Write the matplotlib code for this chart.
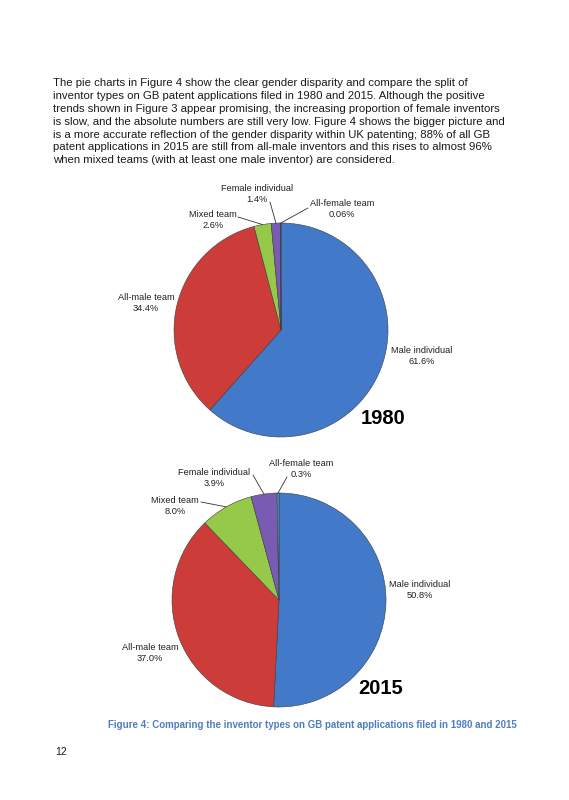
import numpy as np
import matplotlib
matplotlib.use('Agg')
import matplotlib.pyplot as plt

plt.rcParams['font.family'] = ['Liberation Sans', 'DejaVu Sans']

W, H = 569, 800

# data
categories = ['Male individual', 'All-male team', 'Mixed team',
              'Female individual', 'All-female team']
share_1980 = [61.6, 34.4, 2.6, 1.4, 0.06]
share_2015 = [50.8, 37.0, 8.0, 3.9, 0.3]
pct_1980 = ['61.6%', '34.4%', '2.6%', '1.4%', '0.06%']
pct_2015 = ['50.8%', '37.0%', '8.0%', '3.9%', '0.3%']

colors = ['#4379c9', '#cc3d3a', '#96c84a', '#7a5bb4', '#3fa3c8']

paragraph = [
    "The pie charts in Figure 4 show the clear gender disparity and compare the split of",
    "inventor types on GB patent applications filed in 1980 and 2015. Although the positive",
    "trends shown in Figure 3 appear promising, the increasing proportion of female inventors",
    "is slow, and the absolute numbers are still very low. Figure 4 shows the bigger picture and",
    "is a more accurate reflection of the gender disparity within UK patenting; 88% of all GB",
    "patent applications in 2015 are still from all-male inventors and this rises to almost 96%",
    "when mixed teams (with at least one male inventor) are considered.",
]
caption = "Figure 4: Comparing the inventor types on GB patent applications filed in 1980 and 2015"

# layout (pixels from top-left): label centre, leader start (None = no leader)
lay_1980 = {
    'Male individual': ((422, 356), None),
    'All-male team': ((146, 303), None),
    'Mixed team': ((213, 220), (238, 217)),
    'Female individual': ((257, 194), (270, 202)),
    'All-female team': ((342, 209), (308, 208)),
}
lay_2015 = {
    'Male individual': ((420, 590), None),
    'All-male team': ((150, 653), None),
    'Mixed team': ((175, 506), (201, 502)),
    'Female individual': ((214, 478), (253, 475)),
    'All-female team': ((301, 469), (287, 477)),
}

fig = plt.figure(figsize=(W / 100, H / 100), dpi=100)
fig.patch.set_facecolor('white')


def fpos(x, y):
    return x / W, 1 - y / H


for i, line in enumerate(paragraph):
    fig.text(*fpos(53, 83 + i * 12.9), line, fontsize=8.2, color='#1a1a1a',
             ha='left', va='center')


def draw_pie(cx, cy, R, values, pcts, layout, year):
    ax = fig.add_axes([(cx - 2 * R) / W, 1 - (cy + 1.5 * R) / H, 4 * R / W, 3 * R / H])
    wedges, _ = ax.pie(values, colors=colors, startangle=90, counterclock=False,
                       radius=1, wedgeprops=dict(edgecolor='#3c3c3c', linewidth=0.4))
    ax.set_xlim(-2, 2)
    ax.set_ylim(-1.5, 1.5)
    ax.set_aspect('equal')
    ax.axis('off')
    for w, cat, p in zip(wedges, categories, pcts):
        (tx, ty), lead = layout[cat]
        fig.text(*fpos(tx, ty), cat + '\n' + p, fontsize=6.7, color='#222222',
                 ha='center', va='center', linespacing=1.15)
        if lead is not None:
            mid = np.deg2rad((w.theta1 + w.theta2) / 2)
            ax.annotate('', xy=(np.cos(mid), np.sin(mid)), xycoords='data',
                        xytext=(lead[0], H - lead[1]), textcoords='figure pixels',
                        arrowprops=dict(arrowstyle='-', lw=0.6, color='#333333',
                                        shrinkA=0, shrinkB=0))
    fig.text(*fpos(cx + 102, cy + 88), year, fontsize=14.5, fontweight='bold',
             color='black', ha='center', va='center')


draw_pie(281, 330, 107, share_1980, pct_1980, lay_1980, '1980')
draw_pie(279, 600, 107, share_2015, pct_2015, lay_2015, '2015')

fig.text(*fpos(312, 725), caption, fontsize=7.0, fontweight='bold',
         color='#4f7fbf', ha='center', va='center')
fig.text(*fpos(55, 752), '12', fontsize=7.5, color='#1a1a1a', ha='left', va='center')

fig.savefig('out.png', dpi=100)
